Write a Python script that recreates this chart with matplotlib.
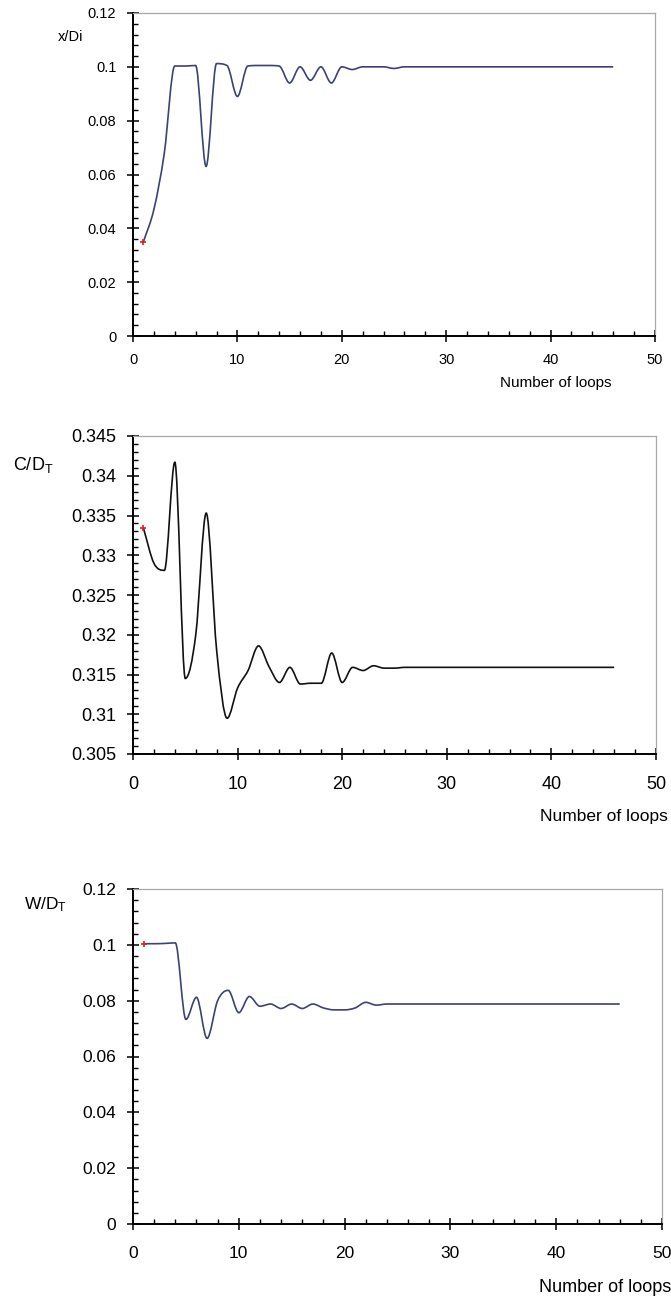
import numpy as np
import matplotlib
matplotlib.use("Agg")
import matplotlib.pyplot as plt
from matplotlib.path import Path
from matplotlib.patches import PathPatch
from matplotlib.ticker import MultipleLocator, FuncFormatter

plt.rcParams['font.family'] = ['Liberation Sans', 'DejaVu Sans']

# ---------------- data ----------------
loops = list(range(1, 47))

x_over_di = [0.035, 0.047, 0.068, 0.1003, 0.1003, 0.1005, 0.063, 0.1012, 0.1005, 0.089,
             0.1003, 0.1005, 0.1005, 0.1003, 0.094, 0.100, 0.095, 0.100, 0.094, 0.100,
             0.099, 0.100, 0.100, 0.100, 0.0994, 0.100] + [0.100] * 20

c_over_dt = [0.3334, 0.3290, 0.3281, 0.3417, 0.3145, 0.3200, 0.3353, 0.3180, 0.3095, 0.3133,
             0.3155, 0.3186, 0.3160, 0.3140, 0.3159, 0.3138, 0.3139, 0.3139, 0.3177, 0.3140,
             0.3159, 0.3155, 0.3161, 0.3158, 0.3158] + [0.3159] * 21

w_over_dt = [0.1004, 0.1004, 0.1005, 0.1007, 0.0733, 0.0812, 0.0665, 0.0800, 0.0837, 0.0757,
             0.0815, 0.0780, 0.0788, 0.0772, 0.0788, 0.0772, 0.0788, 0.0774, 0.0767, 0.0767,
             0.0774, 0.0794, 0.0784, 0.0788] + [0.0788] * 22

panel_ylabels = [r'x/Di', r'$\mathregular{C/D_T}$', r'$\mathregular{W/D_T}$']
xlabel_text = 'Number of loops'
x_ticks = [0, 10, 20, 30, 40, 50]


def smooth_path(xs, ys):
    """Smoothed line drawn as cubic Bezier segments (limited Catmull-Rom tangents)."""
    xs = np.asarray(xs, float)
    ys = np.asarray(ys, float)
    n = len(xs)
    d = np.diff(ys) / np.diff(xs)
    m = np.zeros(n)
    m[0], m[-1] = d[0], d[-1]
    for i in range(1, n - 1):
        if d[i - 1] * d[i] <= 0:
            m[i] = 0.0
        else:
            m[i] = 0.5 * (d[i - 1] + d[i])
    for i in range(n - 1):
        if d[i] == 0:
            m[i] = m[i + 1] = 0.0
            continue
        a, b = m[i] / d[i], m[i + 1] / d[i]
        s = a * a + b * b
        if s > 9:
            tau = 3 / np.sqrt(s)
            m[i], m[i + 1] = tau * a * d[i], tau * b * d[i]
    verts = [(xs[0], ys[0])]
    codes = [Path.MOVETO]
    for i in range(n - 1):
        h = xs[i + 1] - xs[i]
        c1 = (xs[i] + h / 3, ys[i] + m[i] * h / 3)
        c2 = (xs[i + 1] - h / 3, ys[i + 1] - m[i + 1] * h / 3)
        verts += [c1, c2, (xs[i + 1], ys[i + 1])]
        codes += [Path.CURVE4] * 3
    return Path(verts, codes)


W, H = 671, 1300
fig = plt.figure(figsize=(W / 100, H / 100), dpi=100)
fig.patch.set_facecolor('white')

# axes boxes in pixels: left, right, top, bottom
boxes = [(133, 655, 13, 336), (133, 656, 436, 754), (133, 662, 889, 1224)]
ylims = [(0, 0.12), (0.305, 0.345), (0, 0.12)]
ymajor = [0.02, 0.005, 0.02]
yminor = [0.004, 0.001, 0.004]
series = [x_over_di, c_over_dt, w_over_dt]
colors = ['#3b4275', '#111111', '#3b4275']
fsizes = [10.5, 13, 12.5]
xlab_pad = [8, 12, 12]
ylabel_pos = [(71, 37), (33, 465), (46, 905)]
ylabel_fs = [10.5, 13, 12.5]
xlabel_pos = [(556, 383, 'center', 11), (604, 817, 'center', 12.5), (671, 1287, 'right', 13)]

fmt = FuncFormatter(lambda v, p: ('%g' % round(v, 4)))

for k in range(3):
    l, r, t, b = boxes[k]
    ax = fig.add_axes([l / W, 1 - b / H, (r - l) / W, (b - t) / H])
    ax.set_facecolor('white')
    ax.set_xlim(0, 50)
    ax.set_ylim(*ylims[k])
    ax.set_xticks(x_ticks)
    ax.xaxis.set_minor_locator(MultipleLocator(2))
    ax.yaxis.set_major_locator(MultipleLocator(ymajor[k]))
    ax.yaxis.set_minor_locator(MultipleLocator(yminor[k]))
    ax.yaxis.set_major_formatter(fmt)
    ax.xaxis.set_major_formatter(fmt)
    ax.tick_params(which='major', direction='inout', length=8, width=1.1,
                   labelsize=fsizes[k], color='black', top=False, right=False)
    ax.tick_params(axis='x', which='major', pad=xlab_pad[k])
    ax.tick_params(axis='y', which='major', pad=8)
    ax.tick_params(which='minor', direction='in', length=3.5, width=1.0,
                   color='black', top=False, right=False)
    for s in ['left', 'bottom']:
        ax.spines[s].set_color('black')
        ax.spines[s].set_linewidth(1.4)
    for s in ['top', 'right']:
        ax.spines[s].set_color('#a8a8a8')
        ax.spines[s].set_linewidth(0.9)

    patch = PathPatch(smooth_path(loops, series[k]), fill=False,
                      edgecolor=colors[k], lw=1.2, transform=ax.transData, zorder=3)
    ax.add_patch(patch)
    ax.plot([loops[0]], [series[k][0]], marker='+', color='#e02020', ms=4, mew=1.2,
            linestyle='none', zorder=4)

    yx, yy = ylabel_pos[k]
    fig.text(yx / W, 1 - yy / H, panel_ylabels[k], ha='center', va='center',
             fontsize=ylabel_fs[k])
    xx, xy, ha, fs = xlabel_pos[k]
    fig.text(xx / W, 1 - xy / H, xlabel_text, ha=ha, va='center', fontsize=fs)

fig.savefig('out.png', dpi=100, facecolor='white')
